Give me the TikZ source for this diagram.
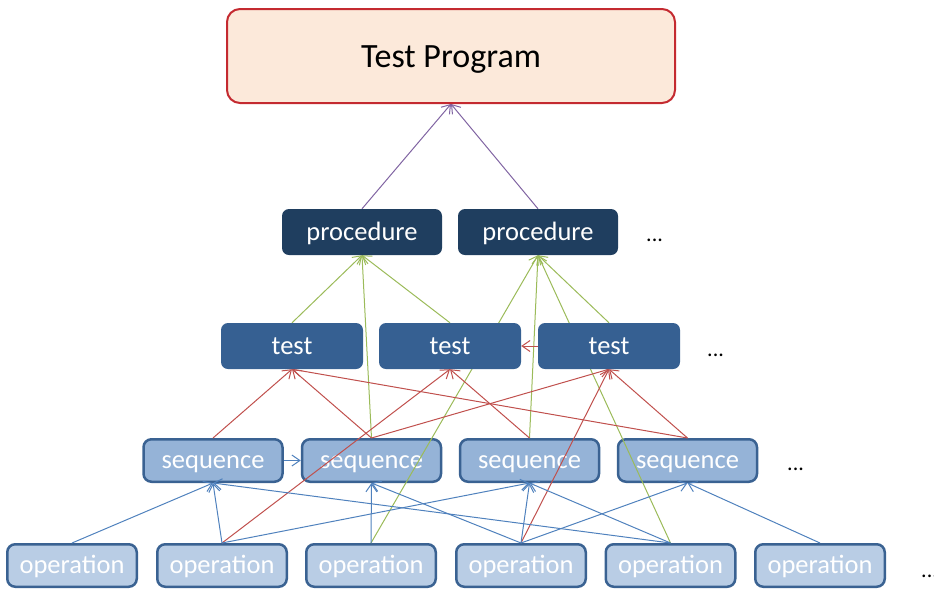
\documentclass[tikz,border=0pt]{standalone}
\usepackage{fontspec}
\setmainfont{Carlito}
\usetikzlibrary{arrows.meta}
\pgfdeclarelayer{lowbox}
\pgfdeclarelayer{lines}
\pgfsetlayers{lowbox,lines,main}
\definecolor{tpfill}{HTML}{FCE9DA}
\definecolor{tpdraw}{HTML}{C42A30}
\definecolor{procfill}{HTML}{1F3E5F}
\definecolor{testfill}{HTML}{366092}
\definecolor{seqfill}{HTML}{95B3D7}
\definecolor{opfill}{HTML}{B9CDE5}
\definecolor{bdr}{HTML}{3A6292}
\definecolor{cpurple}{HTML}{8064A2}
\definecolor{cgreen}{HTML}{9BBB59}
\definecolor{cred}{HTML}{C0504D}
\definecolor{cblue}{HTML}{4F81BD}
\begin{document}
\begin{tikzpicture}[x=1pt,y=-1pt,
  box/.style={rectangle, inner sep=0pt, text=white, font=\fontsize{26.5}{30}\selectfont, text height=20pt, text depth=3.5pt},
  tp/.style={box, fill=tpfill, draw=tpdraw, line width=2pt, rounded corners=13pt, minimum width=448pt, minimum height=94pt, text=black, font=\fontsize{34}{38}\selectfont, text height=26pt, text depth=3pt},
  proc/.style={box, fill=procfill, rounded corners=7pt, minimum width=160pt, minimum height=46pt},
  tst/.style={box, fill=testfill, rounded corners=7pt, minimum width=142pt, minimum height=46pt},
  seqb/.style={box, fill=seqfill, draw=bdr, line width=2.5pt, rounded corners=8pt, minimum width=139pt, minimum height=42.5pt},
  opb/.style={box, fill=opfill, draw=bdr, line width=2.5pt, rounded corners=8pt, minimum width=129.5pt, minimum height=42.5pt},
  dots/.style={inner sep=0pt, anchor=base west, font=\fontsize{22}{24}\selectfont, text=black},
  conn/.style={line width=1pt, -{Straight Barb[length=8pt,width=11pt]}},
  pu/.style={conn, draw=cpurple},
  gr/.style={conn, draw=cgreen},
  rd/.style={conn, draw=cred},
  bl/.style={conn, draw=cblue}]
\useasboundingbox (0,0) rectangle (934,590);

\begin{pgfonlayer}{lowbox}
\node[seqb] (seq1) at (213,460.5) {sequence};
\node[seqb] (seq2) at (371.5,460.5) {sequence};
\node[seqb] (seq3) at (529.5,460.5) {sequence};
\node[seqb] (seq4) at (687.5,460.5) {sequence};
\node[opb] (op1) at (72,565.5) {operation};
\node[opb] (op2) at (222,565.5) {operation};
\node[opb] (op3) at (371,565.5) {operation};
\node[opb] (op4) at (521,565.5) {operation};
\node[opb] (op5) at (670.5,565.5) {operation};
\node[opb] (op6) at (820,565.5) {operation};
\end{pgfonlayer}

\node[tp] (tp) at (451,56) {Test Program};
\node[proc] (proc1) at (362,232) {procedure};
\node[proc] (proc2) at (538,232) {procedure};
\node[tst] (tst1) at (292,346) {test};
\node[tst] (tst2) at (450,346) {test};
\node[tst] (tst3) at (609,346) {test};

\node[dots] (dp) at (646,241) {...};
\node[dots] (dt) at (707,356) {...};
\node[dots] (ds) at (787,470) {...};
\node[dots] (do) at (921,577) {...};

\begin{pgfonlayer}{lines}
\draw[pu] (proc1.north) -- (tp.south);
\draw[pu] (proc2.north) -- (tp.south);

\draw[gr] (tst1.north) -- (proc1.south);
\draw[gr] (tst2.north) -- (proc1.south);
\draw[gr] (seq2.north) -- (proc1.south);
\draw[gr] (tst3.north) -- (proc2.south);
\draw[gr] (op3.north) -- (proc2.south);
\draw[gr] (seq3.north) -- (proc2.south);
\draw[gr] (op5.north) -- (proc2.south);

\draw[rd] (seq1.north) -- (tst1.south);
\draw[rd] (seq2.north) -- (tst1.south);
\draw[rd] (seq4.north) -- (tst1.south);
\draw[rd] (op2.north) -- (tst2.south);
\draw[rd] (seq3.north) -- (tst2.south);
\draw[rd] (seq2.north) -- (tst3.south);
\draw[rd] (op4.north) -- (tst3.south);
\draw[rd] (seq4.north) -- (tst3.south);
\draw[rd] (tst3.west) -- (tst2.east);

\draw[bl] (seq1.east) -- (seq2.west);
\draw[bl] (op1.north) -- (seq1.south);
\draw[bl] (op2.north) -- (seq1.south);
\draw[bl] (op5.north) -- (seq1.south);
\draw[bl] (op3.north) -- (seq2.south);
\draw[bl] (op4.north) -- (seq2.south);
\draw[bl] (op2.north) -- (seq3.south);
\draw[bl] (op4.north) -- (seq3.south);
\draw[bl] (op5.north) -- (seq3.south);
\draw[bl] (op4.north) -- (seq4.south);
\draw[bl] (op6.north) -- (seq4.south);
\end{pgfonlayer}
\end{tikzpicture}
\end{document}
